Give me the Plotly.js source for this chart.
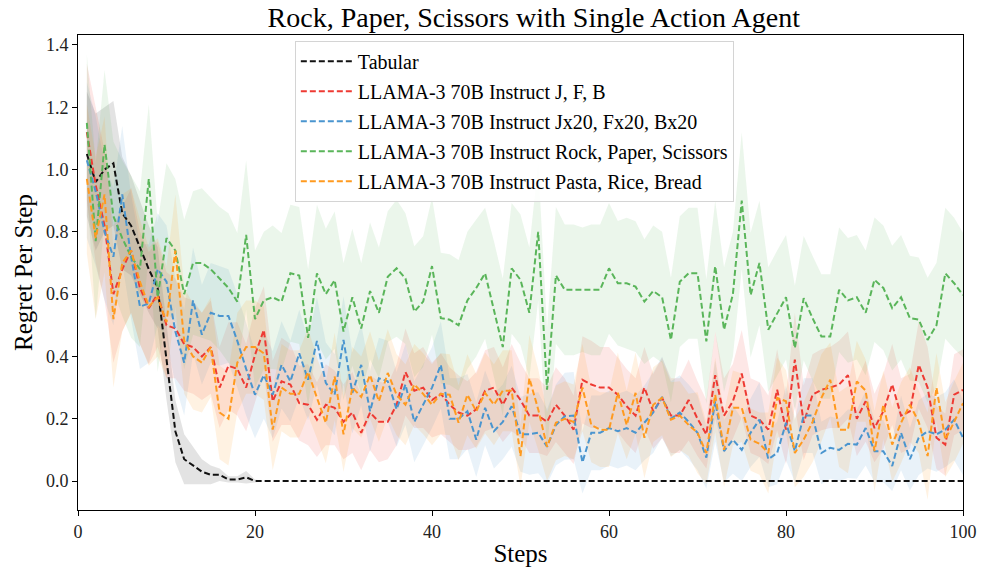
<!DOCTYPE html>
<html>
<head>
<meta charset="utf-8">
<script src="https://cdn.plot.ly/plotly-3.0.1.min.js"></script>
<style>html,body{margin:0;padding:0;background:#fff;}#chart{width:981px;height:573px;}</style>
</head>
<body>
<div id="chart"></div>
<script>
const steps = Array.from({length: 100}, (_, i) => i + 1);

const seriesNames = [
  "Tabular",
  "LLAMA-3 70B Instruct J, F, B",
  "LLAMA-3 70B Instruct Jx20, Fx20, Bx20",
  "LLAMA-3 70B Instruct Rock, Paper, Scissors",
  "LLAMA-3 70B Instruct Pasta, Rice, Bread"
];

const tabularMean = [1.05,0.96,1.0,1.02,0.86,0.82,0.75,0.68,0.62,0.38, 0.16,0.07,0.05,0.03,0.02,0.02,0.005,0.005,0.012,0,
  0,0,0,0,0,0,0,0,0,0, 0,0,0,0,0,0,0,0,0,0, 0,0,0,0,0,0,0,0,0,0, 0,0,0,0,0,0,0,0,0,0,
  0,0,0,0,0,0,0,0,0,0, 0,0,0,0,0,0,0,0,0,0, 0,0,0,0,0,0,0,0,0,0, 0,0,0,0,0,0,0,0,0,0];
const tabularStd = [0.2,0.22,0.2,0.2,0.18,0.16,0.15,0.14,0.13,0.12, 0.1,0.08,0.06,0.04,0.03,0.02,0.01,0.01,0.02,0.005,
  0,0,0,0,0,0,0,0,0,0, 0,0,0,0,0,0,0,0,0,0, 0,0,0,0,0,0,0,0,0,0, 0,0,0,0,0,0,0,0,0,0,
  0,0,0,0,0,0,0,0,0,0, 0,0,0,0,0,0,0,0,0,0, 0,0,0,0,0,0,0,0,0,0, 0,0,0,0,0,0,0,0,0,0];

const jfbMean = [1.12,0.95,0.82,0.60,0.68,0.74,0.62,0.555,0.60,0.50,0.49,0.44,
  0.43,0.40,0.43,0.30,0.37,0.36,0.30,0.405,0.485,0.256,0.32,0.31,0.25,
  0.245,0.197,0.245,0.235,0.19,0.22,0.155,0.22,0.19,0.19,0.245,0.35,
  0.29,0.30,0.26,0.28,0.245,0.22,0.21,0.23,0.29,0.30,0.245,0.30,0.26,
  0.21,0.21,0.19,0.245,0.21,0.165,0.325,0.31,0.30,0.30,0.277,0.24,
  0.21,0.30,0.224,0.267,0.21,0.21,0.26,0.20,0.15,0.34,0.21,0.256,0.345,
  0.21,0.197,0.165,0.293,0.165,0.39,0.187,0.277,0.293,0.30,0.31,0.34,
  0.20,0.256,0.17,0.224,0.31,0.21,0.224,0.373,0.30,0.139,0.117,0.277,0.293];
const jfbStd = [0.22,0.25,0.24,0.22,0.2,0.2,0.18,0.18,0.17,0.17, 0.16,0.15,0.15,0.14,0.15,0.13,0.14,0.15,0.14,0.15,
  0.14,0.13,0.14,0.13,0.12,0.13,0.12,0.13,0.12,0.12, 0.13,0.12,0.12,0.13,0.12,0.13,0.14,0.12,0.13,0.12,
  0.13,0.12,0.12,0.11,0.12,0.13,0.13,0.12,0.14,0.12, 0.12,0.12,0.11,0.12,0.12,0.11,0.14,0.14,0.13,0.13,
  0.12,0.12,0.12,0.13,0.12,0.13,0.12,0.12,0.13,0.12, 0.11,0.14,0.12,0.12,0.14,0.12,0.12,0.11,0.13,0.11,
  0.15,0.12,0.13,0.13,0.13,0.14,0.14,0.12,0.13,0.11, 0.12,0.13,0.12,0.12,0.14,0.13,0.1,0.1,0.13,0.13];

const jx20Mean = [1.03,0.93,0.80,0.72,0.92,0.72,0.56,0.57,0.68,0.64,0.48,0.38,
  0.58,0.47,0.54,0.53,0.53,0.45,0.36,0.277,0.34,0.277,0.373,0.32,0.41,
  0.325,0.45,0.315,0.277,0.453,0.283,0.373,0.224,0.33,0.32,0.23,0.31,
  0.19,0.245,0.30,0.373,0.20,0.20,0.224,0.133,0.235,0.16,0.19,0.24,0.15,
  0.15,0.155,0.11,0.18,0.208,0.21,0.06,0.155,0.155,0.17,0.16,0.17,
  0.155,0.187,0.22,0.27,0.20,0.22,0.19,0.155,0.075,0.256,0.096,0.133,0.10,
  0.155,0.197,0.07,0.09,0.187,0.096,0.21,0.21,0.09,0.107,0.10,0.12,
  0.117,0.17,0.096,0.096,0.048,0.155,0.07,0.139,0.16,0.15,0.165,0.197,0.139];
const jx20Std = [0.25,0.24,0.22,0.22,0.22,0.2,0.2,0.19,0.18,0.18, 0.17,0.17,0.17,0.16,0.16,0.16,0.15,0.15,0.15,0.14,
  0.14,0.14,0.14,0.13,0.14,0.13,0.14,0.13,0.13,0.14, 0.13,0.13,0.13,0.13,0.13,0.12,0.13,0.13,0.13,0.13,
  0.14,0.13,0.13,0.12,0.12,0.12,0.12,0.12,0.13,0.12, 0.13,0.13,0.12,0.13,0.14,0.14,0.1,0.12,0.12,0.12,
  0.12,0.12,0.12,0.12,0.13,0.13,0.12,0.12,0.12,0.12, 0.1,0.13,0.1,0.11,0.1,0.11,0.12,0.09,0.1,0.12,
  0.1,0.12,0.12,0.1,0.1,0.1,0.11,0.11,0.12,0.1, 0.1,0.08,0.12,0.1,0.12,0.12,0.12,0.12,0.13,0.12];

const rpsMean = [1.15,0.77,1.08,0.85,0.78,0.72,0.68,0.97,0.59,0.78,0.74,0.60,
  0.70,0.70,0.68,0.65,0.62,0.576,0.79,0.52,0.58,0.59,0.576,0.667,0.66,
  0.46,0.667,0.60,0.645,0.48,0.59,0.49,0.61,0.54,0.656,0.683,0.65,
  0.544,0.576,0.69,0.523,0.518,0.50,0.58,0.62,0.667,0.55,0.43,0.683,0.646,
  0.54,0.80,0.293,0.66,0.614,0.614,0.614,0.614,0.614,0.683,0.635,0.635,
  0.624,0.576,0.61,0.59,0.453,0.64,0.667,0.667,0.448,0.69,0.486,0.60,0.90,
  0.597,0.70,0.486,0.54,0.59,0.427,0.587,0.523,0.464,0.464,0.614,0.58,
  0.59,0.54,0.646,0.62,0.555,0.59,0.523,0.518,0.453,0.50,0.667,0.635,0.597];
const rpsStd = [0.22,0.25,0.24,0.24,0.25,0.26,0.25,0.24,0.24,0.24, 0.23,0.24,0.23,0.24,0.23,0.23,0.24,0.22,0.24,0.22,
  0.22,0.23,0.22,0.22,0.22,0.22,0.22,0.21,0.22,0.22, 0.22,0.21,0.22,0.21,0.21,0.22,0.21,0.21,0.21,0.22,
  0.21,0.21,0.21,0.22,0.22,0.21,0.22,0.22,0.21,0.21, 0.21,0.22,0.2,0.22,0.21,0.21,0.2,0.21,0.21,0.21,
  0.2,0.21,0.21,0.2,0.21,0.21,0.2,0.21,0.21,0.21, 0.2,0.21,0.2,0.2,0.22,0.2,0.2,0.2,0.2,0.2,
  0.2,0.2,0.2,0.2,0.2,0.2,0.2,0.2,0.2,0.2, 0.2,0.2,0.2,0.2,0.2,0.2,0.2,0.21,0.21,0.2];

const prbMean = [0.97,0.78,0.92,0.52,0.70,0.74,0.64,0.56,0.59,0.51,0.74,0.45,
  0.40,0.38,0.43,0.22,0.20,0.38,0.43,0.43,0.41,0.165,0.30,0.28,0.28,
  0.35,0.267,0.187,0.336,0.15,0.30,0.27,0.34,0.256,0.347,0.277,0.245,
  0.31,0.28,0.245,0.28,0.277,0.187,0.277,0.224,0.283,0.245,0.29,0.29,0.08,
  0.33,0.23,0.11,0.187,0.20,0.19,0.30,0.18,0.165,0.165,0.283,0.18,
  0.283,0.139,0.245,0.267,0.197,0.21,0.18,0.155,0.09,0.277,0.10,0.235,0.235,
  0.133,0.12,0.09,0.267,0.256,0.09,0.133,0.19,0.267,0.325,0.165,0.165,
  0.32,0.29,0.096,0.245,0.117,0.187,0.245,0.19,0.08,0.30,0.133,0.19,0.25];
const prbStd = [0.24,0.26,0.25,0.22,0.22,0.2,0.2,0.19,0.19,0.18, 0.18,0.17,0.17,0.16,0.16,0.15,0.15,0.16,0.15,0.15,
  0.15,0.13,0.14,0.14,0.14,0.14,0.13,0.13,0.14,0.12, 0.13,0.13,0.14,0.13,0.14,0.13,0.13,0.13,0.13,0.13,
  0.13,0.13,0.12,0.13,0.12,0.13,0.13,0.13,0.13,0.1, 0.14,0.13,0.11,0.12,0.12,0.12,0.14,0.12,0.12,0.12,
  0.13,0.11,0.13,0.13,0.12,0.12,0.12,0.11,0.1,0.13, 0.1,0.12,0.12,0.12,0.11,0.1,0.1,0.13,0.13,0.1,
  0.11,0.12,0.13,0.14,0.12,0.12,0.14,0.13,0.1,0.13, 0.11,0.12,0.13,0.12,0.1,0.14,0.11,0.12,0.13,0.13];

const means = [tabularMean, jfbMean, jx20Mean, rpsMean, prbMean];
const stds = [tabularStd, jfbStd, jx20Std, rpsStd, prbStd];
const lineColors = ["#111111", "#ee3a33", "#4a95cf", "#5ab55a", "#ff9a1f"];
const fillColors = ["rgba(60,60,60,0.14)", "rgba(238,58,51,0.12)", "rgba(74,149,207,0.12)", "rgba(90,181,90,0.12)", "rgba(255,154,31,0.13)"];

const traces = [];
means.forEach((m, k) => {
  const lo = m.map((v, i) => v - stds[k][i]);
  const hi = m.map((v, i) => v + stds[k][i]);
  traces.push({x: steps, y: lo, mode: "lines", line: {width: 0, color: fillColors[k]}, showlegend: false, hoverinfo: "skip"});
  traces.push({x: steps, y: hi, mode: "lines", line: {width: 0, color: fillColors[k]}, fill: "tonexty", fillcolor: fillColors[k], showlegend: false, hoverinfo: "skip"});
});
means.forEach((m, k) => {
  traces.push({x: steps, y: m, mode: "lines", name: seriesNames[k], legendgroup: "g" + k,
    line: {color: lineColors[k], width: 2, dash: "6px,3px"}});
});

const font = "Liberation Serif, Times New Roman, serif";
const layout = {
  width: 981, height: 573,
  margin: {l: 78, r: 18, t: 35, b: 63},
  paper_bgcolor: "#fff", plot_bgcolor: "#fff",
  font: {family: font, color: "#000", size: 18},
  title: {text: "Rock, Paper, Scissors with Single Action Agent", font: {family: font, size: 28, color: "#000"},
    x: 0.515, xref: "paper", y: 0.97, yref: "container", yanchor: "middle"},
  xaxis: {range: [0, 100], tickvals: [0, 20, 40, 60, 80, 100], ticks: "outside", ticklen: 5, tickcolor: "#000",
    showline: true, mirror: true, linecolor: "#000", linewidth: 1, showgrid: false, zeroline: false,
    tickfont: {family: font, size: 18, color: "#222"},
    title: {text: "Steps", font: {family: font, size: 25, color: "#000"}, standoff: 3}},
  yaxis: {range: [-0.093, 1.432], tickvals: [0, 0.2, 0.4, 0.6, 0.8, 1.0, 1.2, 1.4], tickformat: ".1f",
    ticks: "outside", ticklen: 5, tickcolor: "#000",
    showline: true, mirror: true, linecolor: "#000", linewidth: 1, showgrid: false, zeroline: false,
    tickfont: {family: font, size: 18, color: "#222"},
    title: {text: "Regret Per Step", font: {family: font, size: 25, color: "#000"}, standoff: 6}},
  legend: {x: 0.245, y: 0.988, xanchor: "left", yanchor: "top", bgcolor: "rgba(255,255,255,0.85)",
    bordercolor: "#d4d4d4", borderwidth: 1, font: {family: font, size: 20, color: "#000"},
    traceorder: "grouped", tracegroupgap: 1, itemwidth: 52}
};

Plotly.newPlot("chart", traces, layout, {staticPlot: true, displayModeBar: false});
</script>
</body>
</html>
